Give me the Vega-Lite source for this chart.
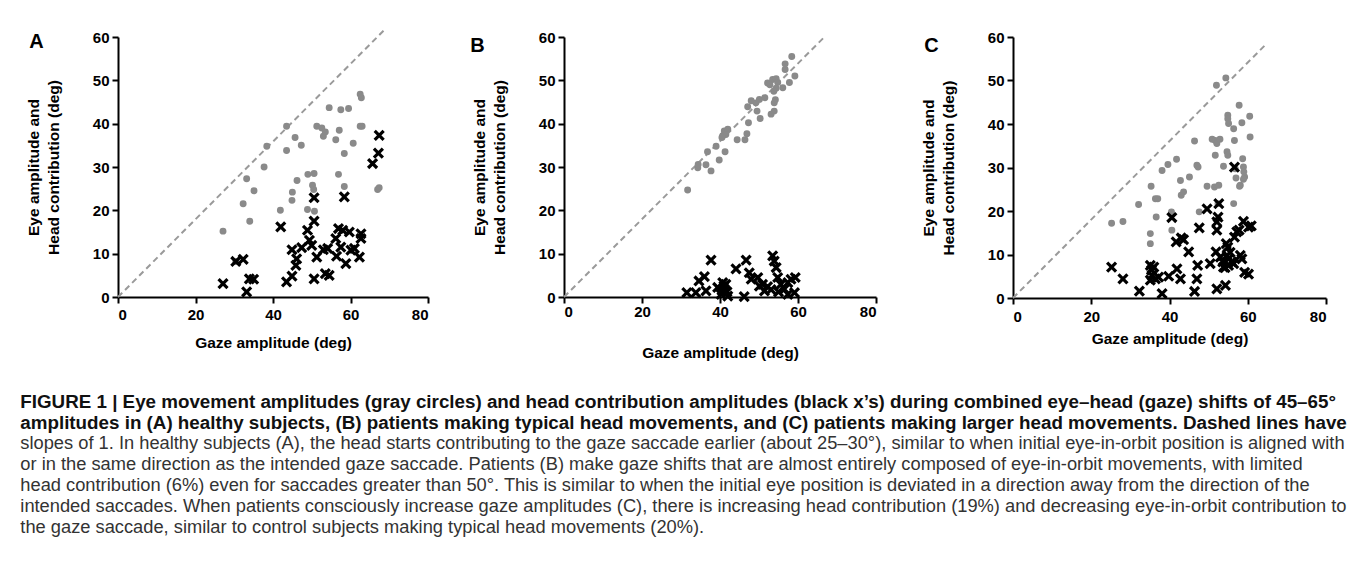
{
  "$schema": "https://vega.github.io/schema/vega-lite/v6.json",
  "padding": {"left": 20, "top": 26, "right": 5, "bottom": 5},
  "background": "white",
  "config": {
    "view": {"stroke": null},
    "font": "Liberation Sans",
    "axis": {"domainColor": "black", "domainWidth": 2, "tickColor": "black", "tickWidth": 2, "tickSize": 6, "labelFont": "Liberation Sans", "labelFontWeight": "bold", "labelFontSize": 15, "labelColor": "black", "titleFont": "Liberation Sans", "titleFontWeight": "bold", "titleFontSize": 15.5, "titleColor": "black", "grid": false, "labelPadding": 3, "titleLineHeight": 20}
  },
  "title": {
    "text": ["FIGURE 1 | Eye movement amplitudes (gray circles) and head contribution amplitudes (black x’s) during combined eye–head (gaze) shifts of 45–65°", "amplitudes in (A) healthy subjects, (B) patients making typical head movements, and (C) patients making larger head movements. Dashed lines have"],
    "subtitle": ["slopes of 1. In healthy subjects (A), the head starts contributing to the gaze saccade earlier (about 25–30°), similar to when initial eye-in-orbit position is aligned with", "or in the same direction as the intended gaze saccade. Patients (B) make gaze shifts that are almost entirely composed of eye-in-orbit movements, with limited", "head contribution (6%) even for saccades greater than 50°. This is similar to when the initial eye position is deviated in a direction away from the direction of the", "intended saccades. When patients consciously increase gaze amplitudes (C), there is increasing head contribution (19%) and decreasing eye-in-orbit contribution to", "the gaze saccade, similar to control subjects making typical head movements (20%)."],
    "orient": "bottom", "anchor": "start", "frame": "bounds", "offset": 32, "dx": -6,
    "font": "Liberation Sans", "fontSize": 18.8, "fontWeight": "bold", "color": "#111", "lineHeight": 21,
    "subtitleFont": "Liberation Sans", "subtitleFontSize": 18.3, "subtitleFontWeight": "normal", "subtitleColor": "#333", "subtitleLineHeight": 21, "subtitlePadding": 2.2
  },
  "data": {"values": [
    {"p":"A","t":"line","x":0,"y":0},{"p":"A","t":"line","x":68.7,"y":61.6},
    {"p":"B","t":"line","x":0,"y":0},{"p":"B","t":"line","x":67,"y":60.2},
    {"p":"C","t":"line","x":0,"y":0},{"p":"C","t":"line","x":64.3,"y":58},
    {"p":"A","t":"eye","x":27.1,"y":15.2},{"p":"A","t":"eye","x":32.3,"y":21.5},{"p":"A","t":"eye","x":33.2,"y":27.3},{"p":"A","t":"eye","x":35.1,"y":24.5},{"p":"A","t":"eye","x":34.0,"y":17.5},{"p":"A","t":"eye","x":30.4,"y":8.2},{"p":"A","t":"eye","x":37.7,"y":30.0},{"p":"A","t":"eye","x":38.4,"y":34.8},{"p":"A","t":"eye","x":41.9,"y":20.0},{"p":"A","t":"eye","x":43.5,"y":39.4},{"p":"A","t":"eye","x":43.5,"y":33.8},{"p":"A","t":"eye","x":45.7,"y":36.8},{"p":"A","t":"eye","x":47.3,"y":35.0},{"p":"A","t":"eye","x":44.9,"y":22.3},{"p":"A","t":"eye","x":45.0,"y":24.2},{"p":"A","t":"eye","x":46.2,"y":26.9},{"p":"A","t":"eye","x":49.0,"y":28.3},{"p":"A","t":"eye","x":50.6,"y":28.5},{"p":"A","t":"eye","x":50.2,"y":25.8},{"p":"A","t":"eye","x":50.5,"y":24.8},{"p":"A","t":"eye","x":48.9,"y":20.2},{"p":"A","t":"eye","x":50.7,"y":19.8},{"p":"A","t":"eye","x":51.3,"y":39.4},{"p":"A","t":"eye","x":52.6,"y":39.0},{"p":"A","t":"eye","x":53.0,"y":37.1},{"p":"A","t":"eye","x":53.5,"y":38.1},{"p":"A","t":"eye","x":54.5,"y":43.7},{"p":"A","t":"eye","x":56.2,"y":36.3},{"p":"A","t":"eye","x":56.9,"y":28.3},{"p":"A","t":"eye","x":57.5,"y":43.2},{"p":"A","t":"eye","x":59.5,"y":43.5},{"p":"A","t":"eye","x":57.1,"y":38.5},{"p":"A","t":"eye","x":58.4,"y":33.1},{"p":"A","t":"eye","x":58.4,"y":25.5},{"p":"A","t":"eye","x":60.7,"y":35.5},{"p":"A","t":"eye","x":62.5,"y":46.8},{"p":"A","t":"eye","x":62.8,"y":46.0},{"p":"A","t":"eye","x":62.5,"y":39.4},{"p":"A","t":"eye","x":63.0,"y":39.4},{"p":"A","t":"eye","x":67.0,"y":24.8},{"p":"A","t":"eye","x":67.4,"y":25.2},
    {"p":"A","t":"head","x":27.1,"y":3.1},{"p":"A","t":"head","x":30.4,"y":8.2},{"p":"A","t":"head","x":32.3,"y":8.7},{"p":"A","t":"head","x":33.2,"y":1.2},{"p":"A","t":"head","x":33.9,"y":4.2},{"p":"A","t":"head","x":35.0,"y":4.1},{"p":"A","t":"head","x":42.0,"y":16.2},{"p":"A","t":"head","x":43.5,"y":3.5},{"p":"A","t":"head","x":44.9,"y":4.8},{"p":"A","t":"head","x":44.9,"y":10.9},{"p":"A","t":"head","x":45.9,"y":7.3},{"p":"A","t":"head","x":46.1,"y":8.8},{"p":"A","t":"head","x":47.4,"y":11.4},{"p":"A","t":"head","x":48.9,"y":15.4},{"p":"A","t":"head","x":49.4,"y":13.1},{"p":"A","t":"head","x":50.0,"y":11.9},{"p":"A","t":"head","x":50.6,"y":17.5},{"p":"A","t":"head","x":50.6,"y":22.9},{"p":"A","t":"head","x":50.6,"y":4.2},{"p":"A","t":"head","x":51.3,"y":9.2},{"p":"A","t":"head","x":53.0,"y":10.9},{"p":"A","t":"head","x":54.1,"y":11.2},{"p":"A","t":"head","x":53.5,"y":5.4},{"p":"A","t":"head","x":54.5,"y":5.0},{"p":"A","t":"head","x":56.2,"y":13.5},{"p":"A","t":"head","x":56.4,"y":9.4},{"p":"A","t":"head","x":56.9,"y":15.8},{"p":"A","t":"head","x":57.5,"y":11.5},{"p":"A","t":"head","x":58.0,"y":15.4},{"p":"A","t":"head","x":58.8,"y":7.7},{"p":"A","t":"head","x":59.7,"y":15.0},{"p":"A","t":"head","x":60.1,"y":10.8},{"p":"A","t":"head","x":61.0,"y":11.2},{"p":"A","t":"head","x":62.3,"y":9.2},{"p":"A","t":"head","x":62.7,"y":13.5},{"p":"A","t":"head","x":62.7,"y":14.6},{"p":"A","t":"head","x":58.4,"y":23.1},{"p":"A","t":"head","x":65.7,"y":30.8},{"p":"A","t":"head","x":67.2,"y":33.2},{"p":"A","t":"head","x":67.4,"y":37.3},
    {"p":"B","t":"eye","x":31.7,"y":24.7},{"p":"B","t":"eye","x":34.3,"y":29.8},{"p":"B","t":"eye","x":34.4,"y":30.6},{"p":"B","t":"eye","x":36.4,"y":30.5},{"p":"B","t":"eye","x":37.7,"y":29.1},{"p":"B","t":"eye","x":36.8,"y":33.5},{"p":"B","t":"eye","x":39.0,"y":34.8},{"p":"B","t":"eye","x":39.8,"y":31.6},{"p":"B","t":"eye","x":41.3,"y":33.5},{"p":"B","t":"eye","x":40.7,"y":37.2},{"p":"B","t":"eye","x":41.1,"y":38.3},{"p":"B","t":"eye","x":42.0,"y":38.7},{"p":"B","t":"eye","x":41.5,"y":37.5},{"p":"B","t":"eye","x":44.4,"y":36.3},{"p":"B","t":"eye","x":46.4,"y":36.3},{"p":"B","t":"eye","x":46.9,"y":37.7},{"p":"B","t":"eye","x":47.3,"y":40.2},{"p":"B","t":"eye","x":47.1,"y":43.9},{"p":"B","t":"eye","x":49.2,"y":44.8},{"p":"B","t":"eye","x":49.5,"y":42.9},{"p":"B","t":"eye","x":50.3,"y":41.2},{"p":"B","t":"eye","x":50.1,"y":45.6},{"p":"B","t":"eye","x":51.5,"y":46.0},{"p":"B","t":"eye","x":52.2,"y":49.4},{"p":"B","t":"eye","x":53.1,"y":42.2},{"p":"B","t":"eye","x":53.9,"y":42.9},{"p":"B","t":"eye","x":53.9,"y":44.8},{"p":"B","t":"eye","x":54.2,"y":45.5},{"p":"B","t":"eye","x":53.8,"y":47.5},{"p":"B","t":"eye","x":53.5,"y":50.2},{"p":"B","t":"eye","x":54.4,"y":50.4},{"p":"B","t":"eye","x":54.8,"y":49.5},{"p":"B","t":"eye","x":54.4,"y":48.2},{"p":"B","t":"eye","x":56.1,"y":48.3},{"p":"B","t":"eye","x":56.7,"y":52.5},{"p":"B","t":"eye","x":56.7,"y":53.8},{"p":"B","t":"eye","x":57.8,"y":49.5},{"p":"B","t":"eye","x":58.4,"y":55.5},{"p":"B","t":"eye","x":59.2,"y":51.0},{"p":"B","t":"eye","x":40.5,"y":36.8},{"p":"B","t":"eye","x":48.0,"y":45.3},{"p":"B","t":"eye","x":52.8,"y":49.0},
    {"p":"B","t":"head","x":31.5,"y":1.0},{"p":"B","t":"head","x":33.8,"y":1.0},{"p":"B","t":"head","x":34.6,"y":3.7},{"p":"B","t":"head","x":36.0,"y":4.7},{"p":"B","t":"head","x":36.4,"y":1.4},{"p":"B","t":"head","x":37.7,"y":8.5},{"p":"B","t":"head","x":39.4,"y":2.2},{"p":"B","t":"head","x":40.7,"y":3.3},{"p":"B","t":"head","x":41.1,"y":1.8},{"p":"B","t":"head","x":40.3,"y":0.6},{"p":"B","t":"head","x":42.0,"y":0.2},{"p":"B","t":"head","x":41.5,"y":2.9},{"p":"B","t":"head","x":40.5,"y":1.5},{"p":"B","t":"head","x":41.8,"y":1.2},{"p":"B","t":"head","x":44.1,"y":6.5},{"p":"B","t":"head","x":46.7,"y":8.5},{"p":"B","t":"head","x":46.2,"y":0.1},{"p":"B","t":"head","x":47.5,"y":5.6},{"p":"B","t":"head","x":48.0,"y":4.1},{"p":"B","t":"head","x":49.7,"y":4.5},{"p":"B","t":"head","x":50.1,"y":2.5},{"p":"B","t":"head","x":50.9,"y":2.9},{"p":"B","t":"head","x":51.4,"y":1.4},{"p":"B","t":"head","x":53.1,"y":1.7},{"p":"B","t":"head","x":53.5,"y":9.5},{"p":"B","t":"head","x":53.9,"y":8.3},{"p":"B","t":"head","x":54.4,"y":6.8},{"p":"B","t":"head","x":54.8,"y":4.5},{"p":"B","t":"head","x":55.6,"y":2.9},{"p":"B","t":"head","x":56.5,"y":1.8},{"p":"B","t":"head","x":57.4,"y":3.3},{"p":"B","t":"head","x":58.2,"y":4.1},{"p":"B","t":"head","x":59.3,"y":4.5},{"p":"B","t":"head","x":59.1,"y":1.0},{"p":"B","t":"head","x":57.4,"y":0.6},{"p":"B","t":"head","x":52.2,"y":2.4},{"p":"B","t":"head","x":55.0,"y":1.2},{"p":"B","t":"head","x":41.0,"y":2.5},
    {"p":"C","t":"eye","x":25.2,"y":17.2},{"p":"C","t":"eye","x":28.1,"y":17.6},{"p":"C","t":"eye","x":32.1,"y":21.5},{"p":"C","t":"eye","x":35.1,"y":12.5},{"p":"C","t":"eye","x":35.1,"y":14.8},{"p":"C","t":"eye","x":35.3,"y":25.7},{"p":"C","t":"eye","x":36.4,"y":22.8},{"p":"C","t":"eye","x":37.0,"y":22.8},{"p":"C","t":"eye","x":36.6,"y":18.6},{"p":"C","t":"eye","x":38.1,"y":29.3},{"p":"C","t":"eye","x":39.6,"y":30.7},{"p":"C","t":"eye","x":41.8,"y":31.9},{"p":"C","t":"eye","x":40.5,"y":19.8},{"p":"C","t":"eye","x":40.6,"y":15.6},{"p":"C","t":"eye","x":42.8,"y":27.0},{"p":"C","t":"eye","x":43.0,"y":23.6},{"p":"C","t":"eye","x":43.6,"y":24.4},{"p":"C","t":"eye","x":45.1,"y":27.8},{"p":"C","t":"eye","x":46.4,"y":36.1},{"p":"C","t":"eye","x":47.0,"y":30.5},{"p":"C","t":"eye","x":47.3,"y":30.1},{"p":"C","t":"eye","x":47.6,"y":19.8},{"p":"C","t":"eye","x":49.6,"y":25.7},{"p":"C","t":"eye","x":50.9,"y":36.5},{"p":"C","t":"eye","x":51.7,"y":36.2},{"p":"C","t":"eye","x":52.1,"y":35.5},{"p":"C","t":"eye","x":52.9,"y":36.5},{"p":"C","t":"eye","x":51.7,"y":32.8},{"p":"C","t":"eye","x":51.5,"y":25.5},{"p":"C","t":"eye","x":52.6,"y":25.9},{"p":"C","t":"eye","x":52.4,"y":21.7},{"p":"C","t":"eye","x":52.0,"y":48.9},{"p":"C","t":"eye","x":54.4,"y":50.6},{"p":"C","t":"eye","x":53.8,"y":30.3},{"p":"C","t":"eye","x":54.7,"y":33.6},{"p":"C","t":"eye","x":54.9,"y":32.8},{"p":"C","t":"eye","x":54.9,"y":42.0},{"p":"C","t":"eye","x":54.9,"y":41.2},{"p":"C","t":"eye","x":55.1,"y":40.1},{"p":"C","t":"eye","x":56.4,"y":38.9},{"p":"C","t":"eye","x":56.6,"y":36.2},{"p":"C","t":"eye","x":56.8,"y":29.7},{"p":"C","t":"eye","x":56.4,"y":21.7},{"p":"C","t":"eye","x":57.8,"y":44.3},{"p":"C","t":"eye","x":58.1,"y":25.9},{"p":"C","t":"eye","x":58.5,"y":40.3},{"p":"C","t":"eye","x":58.7,"y":32.0},{"p":"C","t":"eye","x":58.9,"y":30.1},{"p":"C","t":"eye","x":59.2,"y":27.8},{"p":"C","t":"eye","x":58.9,"y":27.3},{"p":"C","t":"eye","x":60.5,"y":41.8},{"p":"C","t":"eye","x":60.6,"y":37.0},{"p":"C","t":"eye","x":57.0,"y":27.6},{"p":"C","t":"eye","x":57.9,"y":25.7},{"p":"C","t":"eye","x":59.0,"y":29.0},
    {"p":"C","t":"head","x":25.2,"y":7.1},{"p":"C","t":"head","x":28.1,"y":4.4},{"p":"C","t":"head","x":32.3,"y":1.6},{"p":"C","t":"head","x":35.1,"y":7.5},{"p":"C","t":"head","x":35.4,"y":6.4},{"p":"C","t":"head","x":36.0,"y":7.1},{"p":"C","t":"head","x":35.5,"y":5.2},{"p":"C","t":"head","x":36.4,"y":4.4},{"p":"C","t":"head","x":35.1,"y":4.1},{"p":"C","t":"head","x":37.2,"y":4.8},{"p":"C","t":"head","x":38.1,"y":1.0},{"p":"C","t":"head","x":39.8,"y":5.0},{"p":"C","t":"head","x":40.6,"y":18.5},{"p":"C","t":"head","x":41.7,"y":12.9},{"p":"C","t":"head","x":41.9,"y":6.7},{"p":"C","t":"head","x":42.8,"y":4.4},{"p":"C","t":"head","x":43.0,"y":13.8},{"p":"C","t":"head","x":43.6,"y":13.4},{"p":"C","t":"head","x":44.9,"y":10.6},{"p":"C","t":"head","x":46.4,"y":1.5},{"p":"C","t":"head","x":47.2,"y":7.5},{"p":"C","t":"head","x":47.0,"y":4.4},{"p":"C","t":"head","x":47.6,"y":16.1},{"p":"C","t":"head","x":49.6,"y":20.5},{"p":"C","t":"head","x":50.4,"y":7.9},{"p":"C","t":"head","x":51.9,"y":10.6},{"p":"C","t":"head","x":52.1,"y":17.5},{"p":"C","t":"head","x":52.4,"y":18.6},{"p":"C","t":"head","x":52.1,"y":15.6},{"p":"C","t":"head","x":52.6,"y":21.7},{"p":"C","t":"head","x":52.1,"y":2.1},{"p":"C","t":"head","x":54.3,"y":2.9},{"p":"C","t":"head","x":53.0,"y":9.4},{"p":"C","t":"head","x":53.6,"y":8.3},{"p":"C","t":"head","x":54.7,"y":9.8},{"p":"C","t":"head","x":54.9,"y":11.7},{"p":"C","t":"head","x":53.8,"y":7.1},{"p":"C","t":"head","x":55.1,"y":7.5},{"p":"C","t":"head","x":55.9,"y":8.3},{"p":"C","t":"head","x":55.1,"y":9.0},{"p":"C","t":"head","x":56.6,"y":30.1},{"p":"C","t":"head","x":56.6,"y":14.0},{"p":"C","t":"head","x":57.2,"y":15.2},{"p":"C","t":"head","x":57.8,"y":15.6},{"p":"C","t":"head","x":58.1,"y":9.8},{"p":"C","t":"head","x":58.5,"y":9.0},{"p":"C","t":"head","x":59.2,"y":5.9},{"p":"C","t":"head","x":60.2,"y":5.5},{"p":"C","t":"head","x":58.9,"y":17.6},{"p":"C","t":"head","x":60.2,"y":16.3},{"p":"C","t":"head","x":56.4,"y":7.9},{"p":"C","t":"head","x":60.9,"y":16.6},{"p":"C","t":"head","x":54.2,"y":7.0},{"p":"C","t":"head","x":55.5,"y":10.5},{"p":"C","t":"head","x":54.5,"y":12.5}
  ]},
  "spacing": 41,
  "hconcat": [
    {
      "width": 310, "height": 260,
      "title": {"text": "A", "anchor": "start", "frame": "bounds", "fontSize": 20, "fontWeight": "bold", "color": "black", "offset": 0, "dx": 3, "dy": 26},
      "transform": [{"filter": "datum.p == 'A'"}],
      "encoding": {
        "x": {"field": "x", "type": "quantitative", "scale": {"domain": [0, 80], "nice": false}, "axis": {"values": [0, 20, 40, 60, 80], "title": "Gaze amplitude (deg)", "labelPadding": 4, "titlePadding": 13}},
        "y": {"field": "y", "type": "quantitative", "scale": {"domain": [0, 60], "nice": false}, "axis": {"values": [0, 10, 20, 30, 40, 50, 60], "title": ["Eye amplitude and", "Head contribution (deg)"], "titlePadding": 31}}
      },
      "layer": [
        {"transform": [{"filter": "datum.t == 'line'"}], "mark": {"type": "line", "color": "#9a9a9a", "strokeDash": [6, 4], "strokeWidth": 2, "clip": false}},
        {"transform": [{"filter": "datum.t == 'eye'"}], "mark": {"type": "point", "shape": "circle", "filled": true, "color": "#8a8a8a", "opacity": 1, "size": 48}},
        {"transform": [{"filter": "datum.t == 'head'"}], "mark": {"type": "point", "shape": "M-1,-1L1,1M-1,1L1,-1", "filled": false, "color": "black", "opacity": 1, "strokeWidth": 3.2, "size": 80}}
      ]
    },
    {
      "spacing": 44,
      "hconcat": [
        {
          "width": 312, "height": 260,
          "title": {"text": "B", "anchor": "start", "frame": "bounds", "fontSize": 20, "fontWeight": "bold", "color": "black", "offset": 0, "dx": -2, "dy": 26},
          "transform": [{"filter": "datum.p == 'B'"}],
          "encoding": {
            "x": {"field": "x", "type": "quantitative", "scale": {"domain": [0, 80], "nice": false}, "axis": {"values": [0, 20, 40, 60, 80], "title": "Gaze amplitude (deg)", "labelPadding": 1, "titlePadding": 26}},
            "y": {"field": "y", "type": "quantitative", "scale": {"domain": [0, 60], "nice": false}, "axis": {"values": [0, 10, 20, 30, 40, 50, 60], "title": ["Eye amplitude and", "Head contribution (deg)"], "titlePadding": 31}}
          },
          "layer": [
            {"transform": [{"filter": "datum.t == 'line'"}], "mark": {"type": "line", "color": "#9a9a9a", "strokeDash": [6, 4], "strokeWidth": 2, "clip": false}},
            {"transform": [{"filter": "datum.t == 'eye'"}], "mark": {"type": "point", "shape": "circle", "filled": true, "color": "#8a8a8a", "opacity": 1, "size": 48}},
            {"transform": [{"filter": "datum.t == 'head'"}], "mark": {"type": "point", "shape": "M-1,-1L1,1M-1,1L1,-1", "filled": false, "color": "black", "opacity": 1, "strokeWidth": 3.2, "size": 80}}
          ]
        },
        {
          "width": 313, "height": 261,
          "title": {"text": "C", "anchor": "start", "frame": "bounds", "fontSize": 20, "fontWeight": "bold", "color": "black", "offset": 0, "dx": 3, "dy": 26},
          "transform": [{"filter": "datum.p == 'C'"}],
          "encoding": {
            "x": {"field": "x", "type": "quantitative", "scale": {"domain": [0, 80], "nice": false}, "axis": {"values": [0, 20, 40, 60, 80], "title": "Gaze amplitude (deg)", "labelPadding": 5, "titlePadding": 7}},
            "y": {"field": "y", "type": "quantitative", "scale": {"domain": [0, 60], "nice": false}, "axis": {"values": [0, 10, 20, 30, 40, 50, 60], "title": ["Eye amplitude and", "Head contribution (deg)"], "titlePadding": 31}}
          },
          "layer": [
            {"transform": [{"filter": "datum.t == 'line'"}], "mark": {"type": "line", "color": "#9a9a9a", "strokeDash": [6, 4], "strokeWidth": 2, "clip": false}},
            {"transform": [{"filter": "datum.t == 'eye'"}], "mark": {"type": "point", "shape": "circle", "filled": true, "color": "#8a8a8a", "opacity": 1, "size": 48}},
            {"transform": [{"filter": "datum.t == 'head'"}], "mark": {"type": "point", "shape": "M-1,-1L1,1M-1,1L1,-1", "filled": false, "color": "black", "opacity": 1, "strokeWidth": 3.2, "size": 80}}
          ]
        }
      ]
    }
  ]
}
